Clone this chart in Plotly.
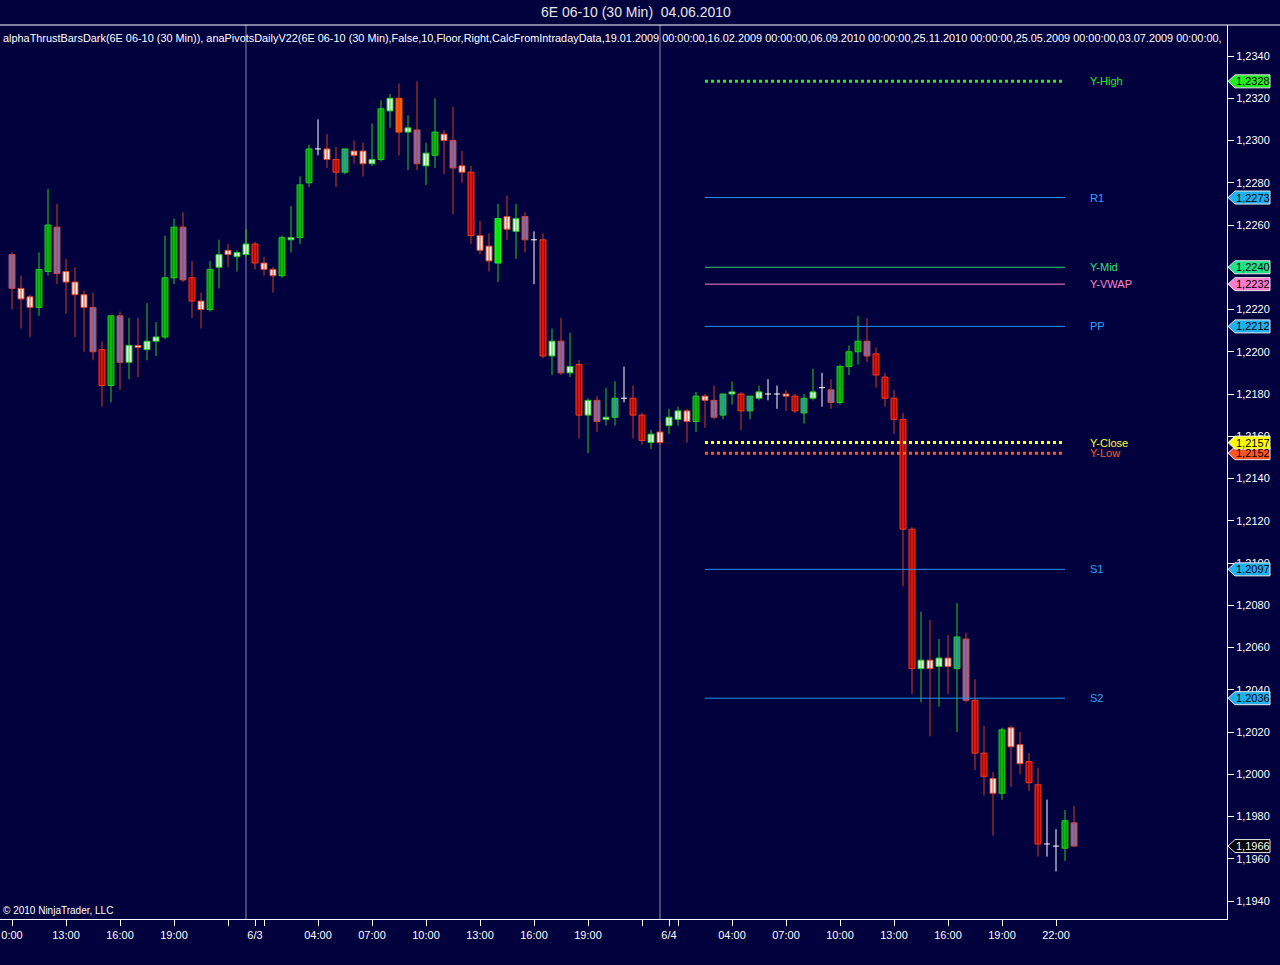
import plotly.graph_objects as go

# ---------------- data (30 min bars, 02.06 10:00 -> 04.06 23:00) ----------------
bar_kind = ["P", "RW", "RW", "G", "G", "P", "RW", "RW", "RW", "P",
            "R", "G", "P", "GW", "RW", "GW", "GW", "G", "G", "P",
            "R", "RW", "G", "GW", "RW", "GW", "GW", "R", "RW", "RW",
            "G", "GW", "G", "G", "W", "RW", "R", "T", "RW", "RW",
            "GW", "G", "GW", "O", "GW", "P", "GW", "G", "RW", "P",
            "RW", "R", "RW", "RW", "LG", "RW", "GW", "P", "W", "R",
            "GW", "P", "GW", "R", "GW", "P", "GW", "T", "W", "R",
            "R", "GW", "RW", "GW", "GW", "RW", "G", "RW", "P", "T",
            "GW", "R", "T", "GW", "W", "W", "RW", "R", "T", "GW",
            "W", "P", "G", "G", "G", "P", "R", "R", "R", "R",
            "R", "GW", "RW", "GW", "RW", "T", "P", "R", "R", "RW",
            "G", "RW", "RW", "R", "R", "W", "W", "G", "P"]

bar_open = [1.2246, 1.2230, 1.2226, 1.2221, 1.2238, 1.2259, 1.2238, 1.2233, 1.2227, 1.2221,
            1.2201, 1.2184, 1.2217, 1.2195, 1.2203, 1.2201, 1.2205, 1.2207, 1.2235, 1.2259,
            1.2235, 1.2224, 1.2220, 1.2240, 1.2248, 1.2245, 1.2246, 1.2251, 1.2242, 1.2239,
            1.2236, 1.2253, 1.2254, 1.2280, 1.2296, 1.2296, 1.2291, 1.2285, 1.2295, 1.2295,
            1.2289, 1.2291, 1.2314, 1.2320, 1.2304, 1.2305, 1.2288, 1.2293, 1.2303, 1.2300,
            1.2288, 1.2285, 1.2255, 1.2250, 1.2242, 1.2264, 1.2257, 1.2264, 1.2253, 1.2253,
            1.2198, 1.2205, 1.2190, 1.2194, 1.2170, 1.2177, 1.2168, 1.2169, 1.2178, 1.2178,
            1.2170, 1.2157, 1.2162, 1.2165, 1.2168, 1.2172, 1.2167, 1.2179, 1.2177, 1.2170,
            1.2180, 1.2180, 1.2172, 1.2178, 1.2180, 1.2180, 1.2180, 1.2179, 1.2171, 1.2178,
            1.2183, 1.2182, 1.2176, 1.2193, 1.2200, 1.2205, 1.2199, 1.2188, 1.2178, 1.2168,
            1.2116, 1.2050, 1.2054, 1.2051, 1.2055, 1.2050, 1.2064, 1.2035, 1.2010, 1.1998,
            1.1991, 1.2022, 1.2014, 1.2006, 1.1995, 1.1967, 1.1966, 1.1965, 1.1977]

bar_high = [1.2247, 1.2236, 1.2227, 1.2247, 1.2277, 1.2270, 1.2244, 1.2240, 1.2229, 1.2228,
            1.2205, 1.2217, 1.2219, 1.2216, 1.2216, 1.2223, 1.2214, 1.2255, 1.2263, 1.2266,
            1.2243, 1.2228, 1.2243, 1.2253, 1.2251, 1.2248, 1.2258, 1.2252, 1.2245, 1.2240,
            1.2255, 1.2269, 1.2283, 1.2298, 1.2310, 1.2303, 1.2297, 1.2296, 1.2300, 1.2299,
            1.2308, 1.2319, 1.2322, 1.2327, 1.2312, 1.2328, 1.2299, 1.2320, 1.2305, 1.2316,
            1.2295, 1.2288, 1.2262, 1.2256, 1.2270, 1.2274, 1.2270, 1.2266, 1.2257, 1.2256,
            1.2211, 1.2216, 1.2209, 1.2196, 1.2178, 1.2179, 1.2183, 1.2186, 1.2193, 1.2184,
            1.2171, 1.2163, 1.2167, 1.2173, 1.2174, 1.2173, 1.2181, 1.2180, 1.2184, 1.2180,
            1.2186, 1.2181, 1.2179, 1.2184, 1.2187, 1.2184, 1.2182, 1.2180, 1.2180, 1.2192,
            1.2190, 1.2187, 1.2194, 1.2203, 1.2217, 1.2216, 1.2202, 1.2190, 1.2182, 1.2171,
            1.2117, 1.2077, 1.2073, 1.2064, 1.2066, 1.2081, 1.2067, 1.2045, 1.2023, 1.2001,
            1.2022, 1.2023, 1.2020, 1.2010, 1.2003, 1.1988, 1.1974, 1.1983, 1.1985]

bar_low = [1.2220, 1.2211, 1.2207, 1.2217, 1.2236, 1.2232, 1.2218, 1.2207, 1.2200, 1.2196,
           1.2174, 1.2176, 1.2182, 1.2187, 1.2188, 1.2196, 1.2198, 1.2206, 1.2232, 1.2233,
           1.2216, 1.2211, 1.2219, 1.2230, 1.2240, 1.2238, 1.2245, 1.2239, 1.2236, 1.2228,
           1.2235, 1.2247, 1.2251, 1.2278, 1.2293, 1.2287, 1.2278, 1.2284, 1.2289, 1.2283,
           1.2288, 1.2290, 1.2306, 1.2293, 1.2286, 1.2286, 1.2279, 1.2287, 1.2284, 1.2265,
           1.2280, 1.2251, 1.2246, 1.2238, 1.2233, 1.2253, 1.2244, 1.2247, 1.2232, 1.2197,
           1.2189, 1.2189, 1.2188, 1.2159, 1.2152, 1.2162, 1.2165, 1.2165, 1.2176, 1.2159,
           1.2156, 1.2154, 1.2156, 1.2161, 1.2165, 1.2157, 1.2162, 1.2164, 1.2168, 1.2168,
           1.2175, 1.2163, 1.2168, 1.2177, 1.2177, 1.2173, 1.2172, 1.2171, 1.2166, 1.2177,
           1.2174, 1.2173, 1.2175, 1.2189, 1.2194, 1.2195, 1.2183, 1.2174, 1.2161, 1.2089,
           1.2038, 1.2034, 1.2018, 1.2032, 1.2038, 1.2020, 1.2034, 1.2002, 1.1990, 1.1971,
           1.1988, 1.1994, 1.2000, 1.1992, 1.1961, 1.1961, 1.1954, 1.1959, 1.1966]

bar_close = [1.2230, 1.2225, 1.2221, 1.2239, 1.2260, 1.2237, 1.2233, 1.2227, 1.2221, 1.2200,
             1.2184, 1.2217, 1.2195, 1.2203, 1.2202, 1.2205, 1.2207, 1.2235, 1.2259, 1.2234,
             1.2224, 1.2220, 1.2239, 1.2246, 1.2246, 1.2247, 1.2251, 1.2242, 1.2239, 1.2236,
             1.2254, 1.2254, 1.2279, 1.2296, 1.2296, 1.2291, 1.2285, 1.2296, 1.2293, 1.2289,
             1.2291, 1.2315, 1.2320, 1.2304, 1.2306, 1.2289, 1.2294, 1.2304, 1.2300, 1.2287,
             1.2285, 1.2255, 1.2248, 1.2243, 1.2263, 1.2258, 1.2263, 1.2253, 1.2253, 1.2198,
             1.2205, 1.2190, 1.2193, 1.2170, 1.2177, 1.2167, 1.2169, 1.2178, 1.2178, 1.2170,
             1.2158, 1.2161, 1.2157, 1.2169, 1.2172, 1.2167, 1.2179, 1.2177, 1.2169, 1.2180,
             1.2181, 1.2172, 1.2179, 1.2181, 1.2180, 1.2180, 1.2179, 1.2172, 1.2178, 1.2181,
             1.2183, 1.2176, 1.2193, 1.2200, 1.2205, 1.2198, 1.2189, 1.2178, 1.2168, 1.2116,
             1.2050, 1.2054, 1.2050, 1.2055, 1.2051, 1.2065, 1.2035, 1.2010, 1.1999, 1.1991,
             1.2021, 1.2013, 1.2005, 1.1996, 1.1967, 1.1967, 1.1966, 1.1978, 1.1966]

tick_index = [0, 6, 12, 18, 24, 27, 28, 34, 40, 46, 52, 58, 64, 70, 73, 74,
              80, 86, 92, 98, 104, 110, 116]
tick_labels = ["0:00", "13:00", "16:00", "19:00", "", "6/3", "", "04:00", "07:00",
               "10:00", "13:00", "16:00", "19:00", "", "6/4", "", "04:00", "07:00",
               "10:00", "13:00", "16:00", "19:00", "22:00"]

session_breaks = [26, 72]

pivot_names = ["Y-High", "R1", "Y-Mid", "Y-VWAP", "PP", "Y-Close", "Y-Low", "S1", "S2"]
pivot_values = [1.2328, 1.2273, 1.2240, 1.2232, 1.2212, 1.2157, 1.2152, 1.2097, 1.2036]
pivot_start, pivot_end = 77, 117

last_price = 1.1966

title_text = "6E 06-10 (30 Min)\u00a0\u00a004.06.2010"
header_text = ("alphaThrustBarsDark(6E 06-10 (30 Min)), anaPivotsDailyV22(6E 06-10 (30 Min),False,10,"
               "Floor,Right,CalcFromIntradayData,19.01.2009 00:00:00,16.02.2009 00:00:00,"
               "06.09.2010 00:00:00,25.11.2010 00:00:00,25.05.2009 00:00:00,03.07.2009 00:00:00,")

# ---------------- styles ----------------
BG = "#01013e"
GREEN_LINE = "#22cc22"
RED_WICK = "#d23c22"
kind_fill = {"G": "#009a00", "LG": "#00ee00", "GW": "#effff0", "T": "#2f8c9e",
             "RW": "#fff2ea", "R": "#b80000", "P": "#7474b8", "O": "#ff5a00"}
kind_line = {"G": GREEN_LINE, "LG": "#22ff22", "GW": GREEN_LINE, "T": GREEN_LINE,
             "RW": "#e04a30", "R": "#ff3a1a", "P": "#d04848", "O": "#ff5a00"}
kind_wick = {"G": GREEN_LINE, "LG": GREEN_LINE, "GW": GREEN_LINE, "T": GREEN_LINE,
             "RW": RED_WICK, "R": RED_WICK, "P": RED_WICK, "O": RED_WICK, "W": "#ffffff"}

pivot_line_color = {"Y-High": "#22ee22", "R1": "#2394e8", "Y-Mid": "#2fd070", "Y-VWAP": "#ff86cc",
                    "PP": "#2394e8", "Y-Close": "#ffff00", "Y-Low": "#ff5522", "S1": "#2394e8",
                    "S2": "#2394e8"}
pivot_text_color = {"Y-High": "#22ee22", "R1": "#2aa4ff", "Y-Mid": "#2fe07a", "Y-VWAP": "#ff86cc",
                    "PP": "#2aa4ff", "Y-Close": "#ffff22", "Y-Low": "#ff5a2a", "S1": "#2aa4ff",
                    "S2": "#2aa4ff"}
pivot_tag_color = {"Y-High": "#22ee22", "R1": "#1eb0f0", "Y-Mid": "#22e08a", "Y-VWAP": "#ff7acb",
                   "PP": "#1eb0f0", "Y-Close": "#ffff00", "Y-Low": "#ff5522", "S1": "#1eb0f0",
                   "S2": "#1eb0f0"}
dotted = {"Y-High", "Y-Close", "Y-Low"}

FONT = "Liberation Sans, Arial, sans-serif"

fig = go.Figure()

n = len(bar_open)

# wicks
groups = {}
for i in range(n):
    col = kind_wick[bar_kind[i]]
    xs, ys = groups.setdefault(col, ([], []))
    xs += [i, i, None]
    ys += [bar_low[i], bar_high[i], None]
for col, (xs, ys) in groups.items():
    fig.add_trace(go.Scatter(x=xs, y=ys, mode="lines", line=dict(color=col, width=1),
                             hoverinfo="skip", showlegend=False))

# bodies
bx, bh, bb, bf, bl = [], [], [], [], []
for i in range(n):
    k = bar_kind[i]
    if k == "W":
        continue
    lo = min(bar_open[i], bar_close[i])
    hi = max(bar_open[i], bar_close[i])
    bx.append(i)
    bb.append(lo)
    bh.append(hi - lo)
    bf.append(kind_fill[k])
    bl.append(kind_line[k])
fig.add_trace(go.Bar(x=bx, y=bh, base=bb, width=0.66,
                     marker=dict(color=bf, line=dict(color=bl, width=1)),
                     hoverinfo="skip", showlegend=False))

# doji crosses
dx, dy = [], []
for i in range(n):
    if bar_kind[i] == "W":
        dx += [i - 0.33, i + 0.33, None]
        dy += [bar_close[i], bar_close[i], None]
fig.add_trace(go.Scatter(x=dx, y=dy, mode="lines", line=dict(color="#ffffff", width=1),
                         hoverinfo="skip", showlegend=False))

# pivot lines
for name, val in zip(pivot_names, pivot_values):
    is_dot = name in dotted
    fig.add_trace(go.Scatter(x=[pivot_start, pivot_end], y=[val, val], mode="lines",
                             line=dict(color=pivot_line_color[name], width=3 if is_dot else 1,
                                       dash="dot" if is_dot else "solid"),
                             hoverinfo="skip", showlegend=False))

annotations = []
shapes = []

# session break lines
for sb in session_breaks:
    shapes.append(dict(type="line", xref="x", yref="paper", x0=sb, x1=sb, y0=0, y1=1,
                       line=dict(color="#8c8ca8", width=1), layer="below"))

# top border across full width
shapes.append(dict(type="line", xref="paper", yref="paper", x0=-0.01, x1=1.05, y0=1, y1=1,
                   line=dict(color="#ffffff", width=1)))

# pivot labels
for name, val in zip(pivot_names, pivot_values):
    annotations.append(dict(x=119.5, y=val, xref="x", yref="y", text=name, showarrow=False,
                            xanchor="left", yanchor="middle",
                            font=dict(family=FONT, size=11, color=pivot_text_color[name])))


def fmt(v):
    return ("%.4f" % v).replace(".", ",")


tag_path = "M 1 0 L 8 6.5 L 43 6.5 L 43 -6.5 L 8 -6.5 Z"
tags = [(v, pivot_tag_color[nm], "#000000") for nm, v in zip(pivot_names, pivot_values)]
tags.append((last_price, "#000000", "#ffffff"))
# draw Y-Low before Y-Close so yellow sits on top
order = list(range(len(tags)))
order[5], order[6] = 6, 5
for j in order:
    v, col, tcol = tags[j]
    shapes.append(dict(type="path", xref="paper", yref="y", xsizemode="pixel", ysizemode="pixel",
                       xanchor=1, yanchor=v, path=tag_path, fillcolor=col,
                       line=dict(color="#e8e8e8", width=1), layer="above"))
    annotations.append(dict(x=1, y=v, xref="paper", yref="y", text=fmt(v), showarrow=False,
                            xanchor="center", yanchor="middle", xshift=26,
                            font=dict(family=FONT, size=11, color=tcol)))

# title / header / copyright
annotations.append(dict(x=636 / 1227, y=1, xref="paper", yref="paper", text=title_text,
                        showarrow=False, xanchor="center", yanchor="middle", yshift=13,
                        font=dict(family=FONT, size=14, color="#e6e6e6")))
annotations.append(dict(x=0, y=1, xref="paper", yref="paper", text=header_text,
                        showarrow=False, xanchor="left", yanchor="top", xshift=1, yshift=-5,
                        font=dict(family=FONT, size=10.9, color="#ffffff")))
annotations.append(dict(x=0, y=0, xref="paper", yref="paper", text="\u00a9 2010 NinjaTrader, LLC",
                        showarrow=False, xanchor="left", yanchor="bottom", xshift=1, yshift=1,
                        font=dict(family=FONT, size=10, color="#ffffff")))

fig.update_layout(
    width=1280, height=965,
    margin=dict(l=0, r=53, t=25, b=46, pad=0),
    paper_bgcolor=BG, plot_bgcolor=BG,
    barmode="overlay",
    separators=", ",
    showlegend=False,
    shapes=shapes,
    annotations=annotations,
    xaxis=dict(range=[-12 / 9, 1215 / 9], showgrid=False, zeroline=False,
               tickmode="array", tickvals=tick_index, ticktext=tick_labels,
               ticks="outside", ticklen=6, tickcolor="#ffffff", tickwidth=1,
               showline=True, linecolor="#ffffff", linewidth=1,
               tickfont=dict(family=FONT, size=11, color="#ffffff"), fixedrange=True),
    yaxis=dict(range=[1.2340 - (919 - 56) / 21125, 1.2340 + 31 / 21125], side="right",
               showgrid=False, zeroline=False, tick0=1.1940, dtick=0.002, tickformat=".4f",
               ticks="outside", ticklen=6, tickcolor="#ffffff", tickwidth=1,
               showline=True, linecolor="#ffffff", linewidth=1,
               tickfont=dict(family=FONT, size=11, color="#ffffff"), fixedrange=True),
)

fig.write_html("out.html", config={"displayModeBar": False},
               post_script="document.body.style.margin='0px';"
                           "document.body.style.overflow='hidden';"
                           "document.body.style.background='" + BG + "';")
